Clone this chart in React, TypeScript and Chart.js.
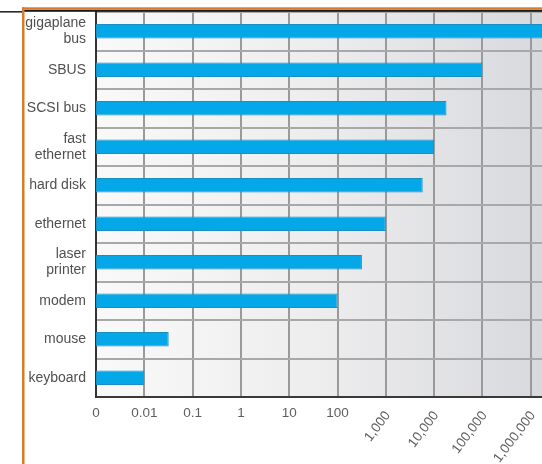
import React, { useEffect, useRef } from "react";
import { Chart, registerables } from "chart.js";

Chart.register(...registerables);

const DEVICES: (string | string[])[] = [
  ["gigaplane", "bus"],
  "SBUS",
  "SCSI bus",
  ["fast", "ethernet"],
  "hard disk",
  "ethernet",
  ["laser", "printer"],
  "modem",
  "mouse",
  "keyboard",
];
const RATES: number[] = [3000000, 100000, 18000, 10000, 5800, 1000, 320, 100, 0.032, 0.01];
const TICK_VALUES: number[] = [0.001, 0.01, 0.1, 1, 10, 100, 1000, 10000, 100000, 1000000];
const TICK_LABELS: string[] = ["0", "0.01", "0.1", "1", "10", "100", "1,000", "10,000", "100,000", "1,000,000"];
const AXIS_MIN = 0.001;
const AXIS_MAX = 1710000;

const FONT = '"Liberation Sans", Arial, Helvetica, sans-serif';

const decorPlugin = {
  id: "decor",
  beforeDraw(chart: any) {
    const { ctx, chartArea } = chart;
    const { left, right, top, bottom } = chartArea;
    ctx.save();
    ctx.fillStyle = "#ffffff";
    ctx.fillRect(0, 0, chart.width, chart.height);
    const g = ctx.createLinearGradient(left, 0, right, 0);
    g.addColorStop(0, "#f9f9f9");
    g.addColorStop(0.5, "#ededee");
    g.addColorStop(1, "#d8d9dd");
    ctx.fillStyle = g;
    ctx.fillRect(left, top, right - left, bottom - top);
    ctx.restore();
  },
  afterDraw(chart: any) {
    const { ctx } = chart;
    const xs = chart.scales.x;
    const bottom = chart.chartArea.bottom;
    ctx.save();
    ctx.fillStyle = "#5e5e5e";
    ctx.font = `13.5px ${FONT}`;
    TICK_VALUES.forEach((v, i) => {
      const x = xs.getPixelForValue(v);
      const label = TICK_LABELS[i];
      if (v < 1000) {
        ctx.textAlign = "center";
        ctx.textBaseline = "middle";
        ctx.fillText(label, x, bottom + 16);
      } else {
        ctx.save();
        ctx.translate(x + 2, bottom + 16);
        ctx.rotate((-53 * Math.PI) / 180);
        ctx.textAlign = "right";
        ctx.textBaseline = "middle";
        ctx.fillText(label, 0, 0);
        ctx.restore();
      }
    });
    // frame
    ctx.fillStyle = "#2a2a2a";
    ctx.fillRect(0, 11, 22, 1.6);
    ctx.fillStyle = "#1a1a1a";
    ctx.fillRect(22, 9.8, chart.width - 22, 2);
    ctx.fillStyle = "#d97b2c";
    ctx.fillRect(22, 7.3, chart.width - 22, 2.5);
    ctx.fillRect(22, 7.3, 2.5, chart.height - 7.3);
    ctx.restore();
  },
};

export default function App() {
  const ref = useRef<HTMLCanvasElement | null>(null);
  useEffect(() => {
    if (!ref.current) return;
    const chart = new Chart(ref.current, {
      type: "bar",
      data: {
        labels: DEVICES,
        datasets: [
          {
            data: RATES,
            backgroundColor: "#04a8e8",
            borderColor: "#1a8fc2",
            borderWidth: 1,
            borderSkipped: false,
            categoryPercentage: 1,
            barPercentage: 0.38,
          },
        ],
      },
      options: {
        indexAxis: "y",
        responsive: false,
        animation: false,
        layout: { padding: { top: 12, left: 0, right: 0, bottom: 0 } },
        plugins: { legend: { display: false }, tooltip: { enabled: false } },
        scales: {
          x: {
            type: "logarithmic",
            min: AXIS_MIN,
            max: AXIS_MAX,
            bounds: "data",
            afterBuildTicks: (scale: any) => {
              scale.ticks = TICK_VALUES.map((v) => ({ value: v }));
            },
            afterFit: (scale: any) => {
              scale.height = 67;
              scale.paddingLeft = 0;
              scale.paddingRight = 0;
            },
            ticks: { display: false },
            grid: { color: "#9a9a9a", lineWidth: 2, drawTicks: false },
            border: { color: "#3a3a3a", width: 2 },
          },
          y: {
            type: "category",
            afterFit: (scale: any) => {
              scale.width = 96;
              scale.paddingTop = 0;
              scale.paddingBottom = 0;
            },
            ticks: {
              color: "#505050",
              padding: 10,
              font: { family: FONT, size: 14, lineHeight: 1.15 },
            },
            grid: { color: "#a8a8a8", lineWidth: 2, drawTicks: false, offset: true },
            border: { color: "#333333", width: 2 },
          },
        },
      },
      plugins: [decorPlugin],
    } as any);
    return () => chart.destroy();
  }, []);
  return (
    <div style={{ position: "fixed", left: 0, top: 0, width: 542, height: 464, background: "#fff" }}>
      <canvas ref={ref} width={542} height={464} style={{ width: 542, height: 464, display: "block" }} />
    </div>
  );
}
